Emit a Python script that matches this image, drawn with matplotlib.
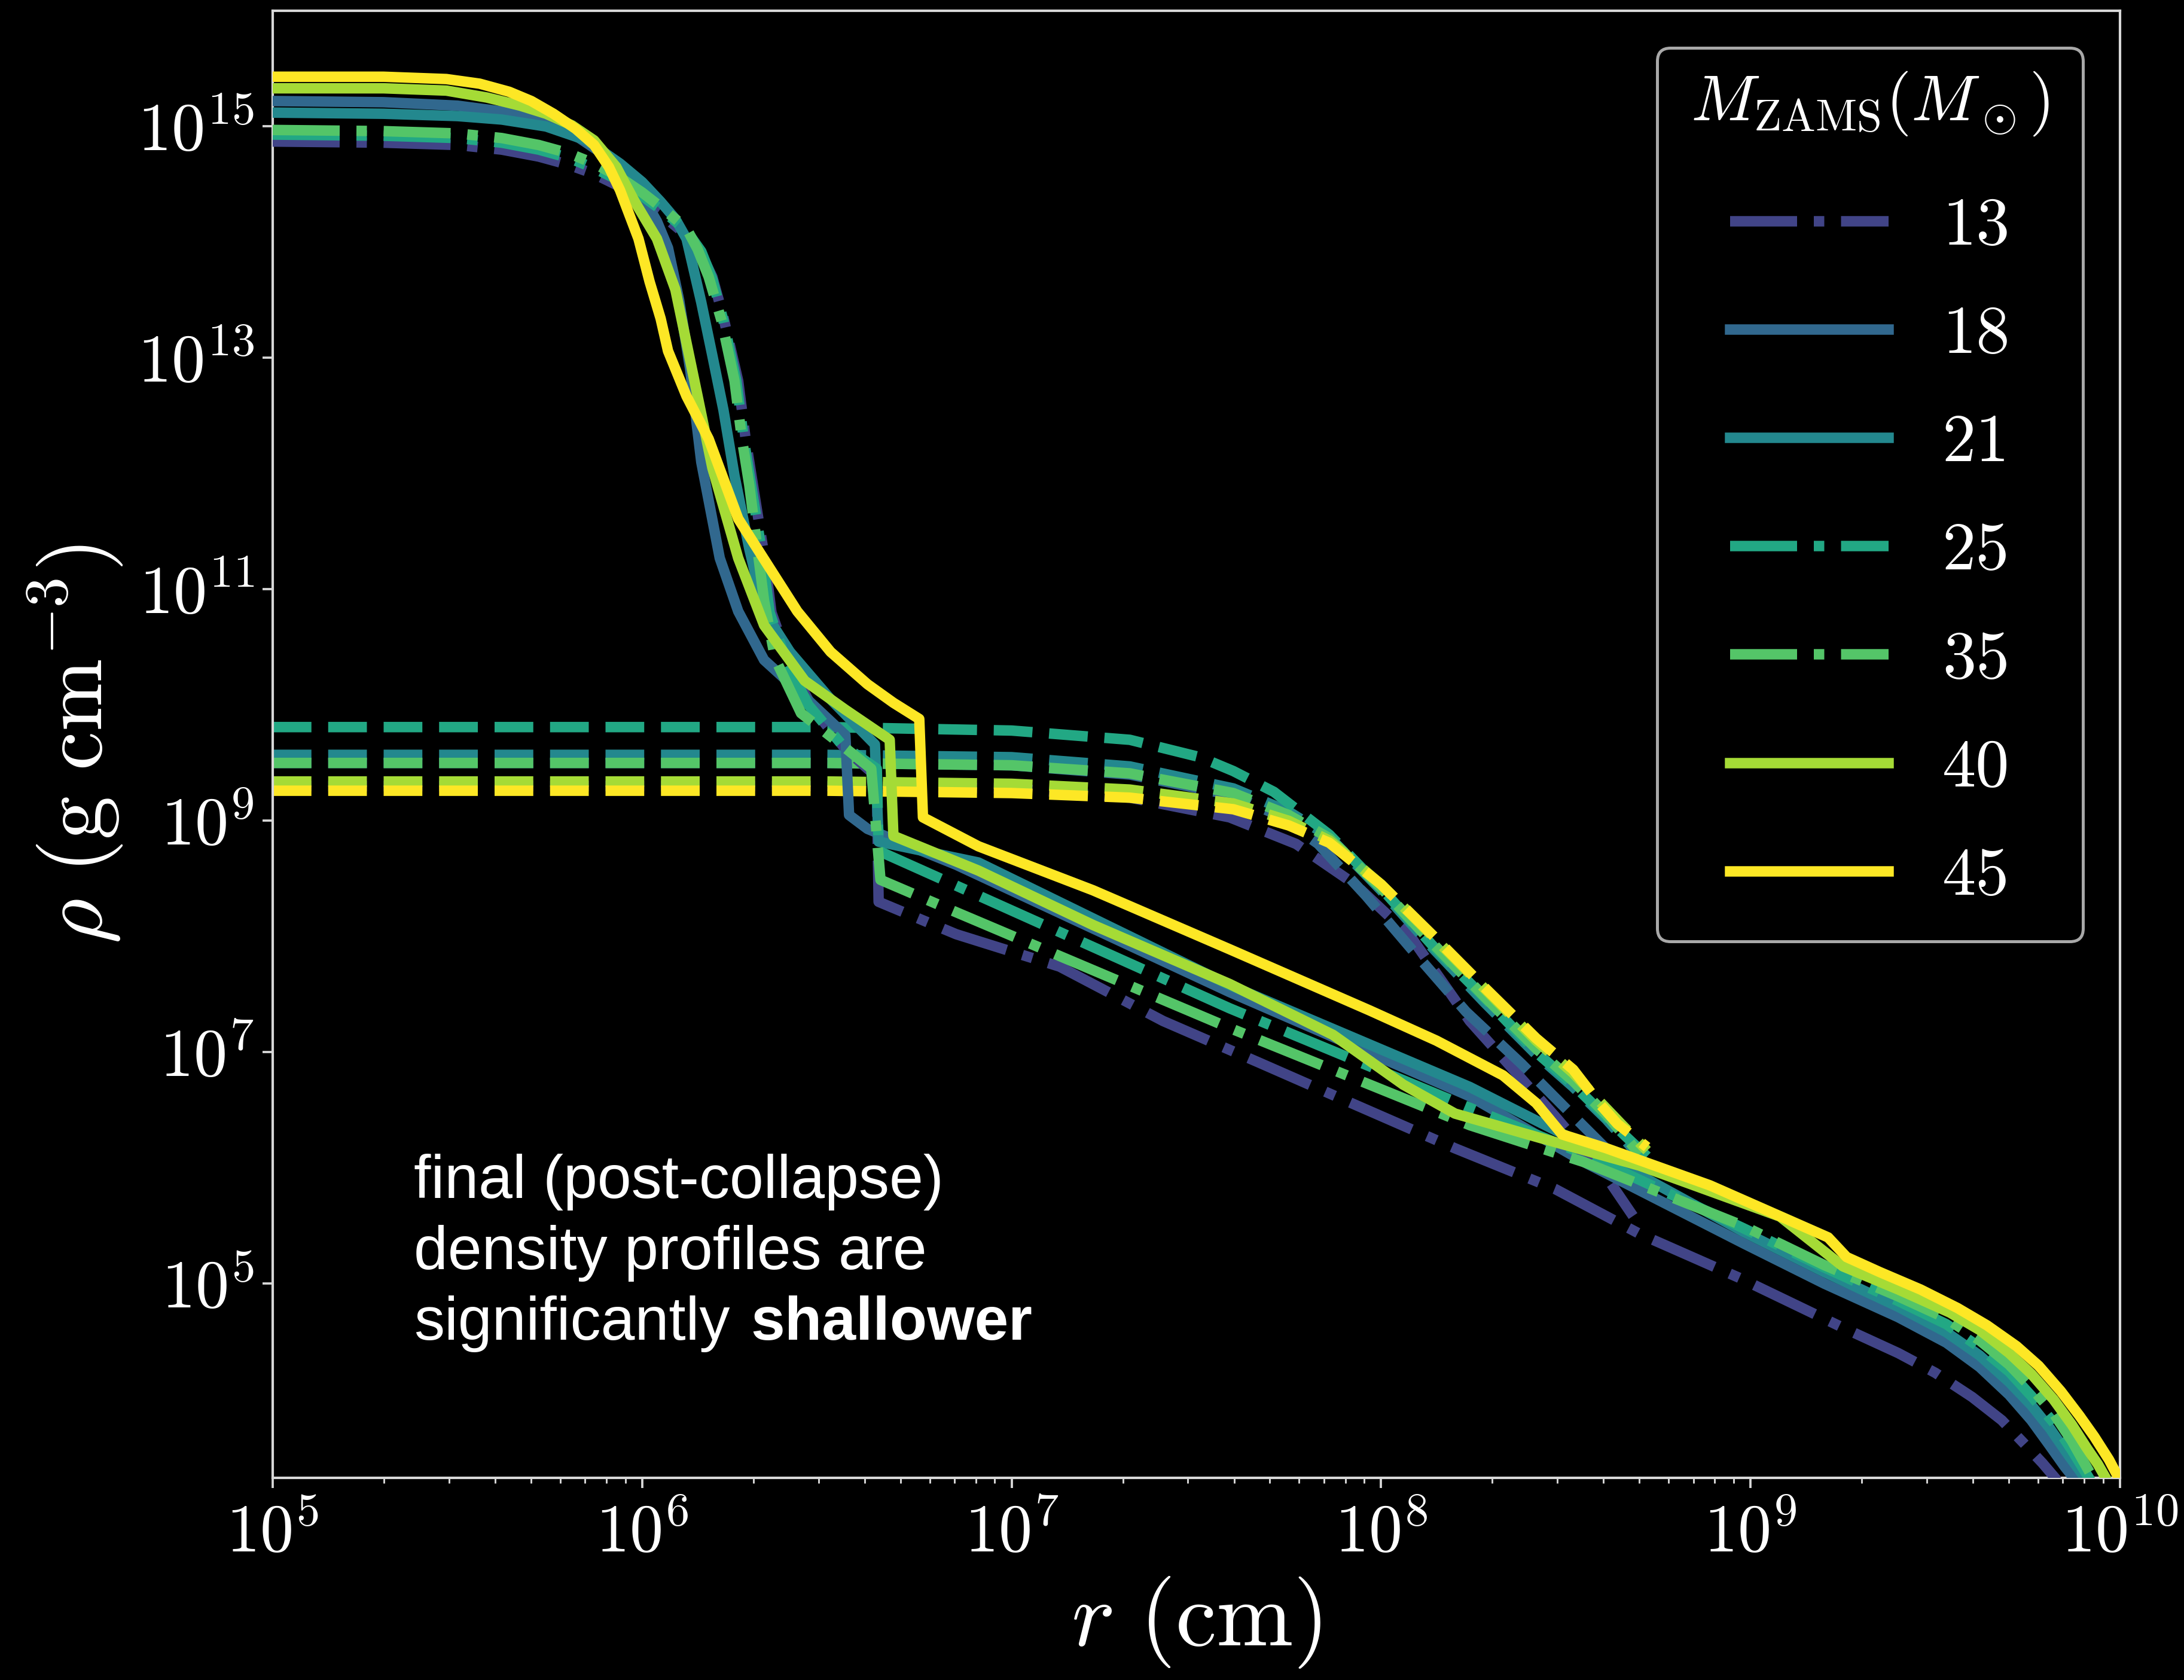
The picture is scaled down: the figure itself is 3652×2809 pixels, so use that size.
import numpy as np
import matplotlib
matplotlib.use("Agg")
import matplotlib.pyplot as plt
from matplotlib.ticker import LogLocator, NullLocator, FixedLocator, LogFormatterSciNotation

plt.rcParams.update({
    "font.family": "serif",
    "font.serif": ["cmr10", "DejaVu Serif"],
    "mathtext.fontset": "cm",
    "axes.formatter.use_mathtext": True,
    "axes.unicode_minus": False,
})

# ---------------- data (log10 r [cm], log10 rho [g cm^-3]) ----------------
masses = [13, 18, 21, 25, 35, 40, 45]
final_styles = ["-.", "-", "-", "-.", "-.", "-", "-"]

# post-collapse (final) profiles
logr_13_final = [5.00, 5.30, 5.50, 5.62, 5.72, 5.80, 5.87, 5.94, 6.00, 6.06, 6.12, 6.16, 6.19, 6.22, 6.26, 6.28, 6.30, 6.33, 6.35, 6.40, 6.46, 6.55, 6.635, 6.64, 6.85, 7.13, 7.41, 7.67, 7.92, 8.20, 8.47, 8.70, 8.97, 9.25, 9.40, 9.50, 9.60, 9.68, 9.74, 9.79, 9.83]
logrho_13_final = [14.87, 14.86, 14.84, 14.80, 14.74, 14.67, 14.59, 14.48, 14.36, 14.22, 14.06, 13.90, 13.70, 13.35, 12.80, 12.30, 11.90, 11.30, 10.80, 10.35, 9.98, 9.62, 9.38, 8.30, 8.02, 7.74, 7.27, 6.91, 6.56, 6.17, 5.82, 5.43, 5.05, 4.62, 4.40, 4.23, 4.02, 3.82, 3.62, 3.45, 3.30]

logr_18_final = [5.00, 5.30, 5.50, 5.62, 5.74, 5.83, 5.90, 5.96, 6.00, 6.04, 6.07, 6.10, 6.13, 6.16, 6.21, 6.26, 6.33, 6.44, 6.55, 6.56, 6.61, 6.85, 7.59, 8.24, 8.55, 8.98, 9.20, 9.40, 9.53, 9.62, 9.70, 9.76, 9.81, 9.85, 9.88]
logrho_18_final = [15.22, 15.21, 15.18, 15.13, 15.04, 14.90, 14.75, 14.58, 14.40, 14.18, 13.95, 13.50, 12.90, 12.10, 11.27, 10.81, 10.39, 10.07, 9.74, 9.05, 8.93, 8.62, 7.52, 6.62, 6.05, 5.35, 5.00, 4.71, 4.49, 4.28, 4.04, 3.82, 3.60, 3.42, 3.30]

logr_21_final = [5.00, 5.30, 5.50, 5.62, 5.74, 5.85, 5.94, 6.00, 6.05, 6.09, 6.12, 6.16, 6.19, 6.22, 6.25, 6.29, 6.33, 6.40, 6.51, 6.63, 6.64, 6.91, 7.59, 8.24, 8.55, 8.98, 9.20, 9.40, 9.53, 9.62, 9.70, 9.76, 9.81, 9.86, 9.91]
logrho_21_final = [15.12, 15.11, 15.09, 15.06, 15.00, 14.88, 14.68, 14.52, 14.35, 14.20, 14.03, 13.48, 13.02, 12.55, 11.98, 11.35, 10.81, 10.46, 10.05, 9.66, 8.82, 8.64, 7.58, 6.70, 6.20, 5.45, 5.10, 4.80, 4.58, 4.38, 4.15, 3.95, 3.75, 3.52, 3.30]

logr_25_final = [5.00, 5.30, 5.50, 5.62, 5.72, 5.80, 5.87, 5.94, 6.00, 6.06, 6.12, 6.16, 6.19, 6.22, 6.255, 6.275, 6.295, 6.325, 6.345, 6.39, 6.45, 6.54, 6.635, 6.64, 6.85, 7.59, 8.24, 8.55, 8.98, 9.20, 9.40, 9.53, 9.62, 9.70, 9.76, 9.82, 9.87, 9.92]
logrho_25_final = [14.93, 14.92, 14.90, 14.86, 14.80, 14.73, 14.64, 14.53, 14.40, 14.26, 14.10, 13.92, 13.68, 13.32, 12.80, 12.30, 11.90, 11.30, 10.80, 10.38, 10.00, 9.66, 9.45, 8.74, 8.44, 7.38, 6.52, 6.12, 5.48, 5.14, 4.85, 4.65, 4.45, 4.24, 4.03, 3.80, 3.56, 3.30]

logr_35_final = [5.00, 5.30, 5.50, 5.62, 5.72, 5.80, 5.87, 5.94, 6.00, 6.06, 6.12, 6.15, 6.18, 6.215, 6.25, 6.27, 6.29, 6.31, 6.33, 6.36, 6.43, 6.53, 6.62, 6.645, 6.85, 7.59, 8.24, 8.55, 8.98, 9.20, 9.40, 9.53, 9.62, 9.70, 9.76, 9.82, 9.87, 9.93]
logrho_35_final = [14.97, 14.96, 14.94, 14.90, 14.84, 14.77, 14.68, 14.56, 14.43, 14.28, 14.12, 13.94, 13.70, 13.32, 12.80, 12.30, 11.90, 11.40, 10.90, 10.40, 9.93, 9.68, 9.45, 8.49, 8.21, 7.21, 6.37, 6.05, 5.50, 5.16, 4.89, 4.70, 4.51, 4.30, 4.10, 3.88, 3.64, 3.30]

logr_40_final = [5.00, 5.30, 5.47, 5.58, 5.67, 5.74, 5.81, 5.87, 5.93, 5.98, 6.04, 6.09, 6.12, 6.15, 6.19, 6.26, 6.33, 6.44, 6.55, 6.67, 6.68, 6.91, 7.22, 7.59, 7.87, 8.06, 8.20, 8.43, 8.70, 9.08, 9.25, 9.40, 9.54, 9.62, 9.70, 9.76, 9.82, 9.87, 9.91, 9.94, 9.965]
logrho_40_final = [15.33, 15.33, 15.31, 15.25, 15.18, 15.11, 15.01, 14.88, 14.65, 14.35, 14.03, 13.59, 13.13, 12.67, 12.05, 11.27, 10.69, 10.21, 9.96, 9.70, 8.87, 8.57, 8.10, 7.59, 7.15, 6.72, 6.47, 6.26, 6.02, 5.58, 5.15, 4.95, 4.75, 4.60, 4.40, 4.22, 4.00, 3.78, 3.58, 3.44, 3.30]

logr_45_final = [5.00, 5.30, 5.47, 5.56, 5.64, 5.70, 5.76, 5.82, 5.87, 5.91, 5.94, 5.99, 6.02, 6.05, 6.07, 6.12, 6.18, 6.26, 6.35, 6.42, 6.51, 6.61, 6.68, 6.75, 6.76, 6.91, 7.22, 7.59, 7.97, 8.15, 8.33, 8.42, 8.49, 8.61, 8.89, 9.21, 9.26, 9.35, 9.46, 9.56, 9.64, 9.72, 9.78, 9.84, 9.89, 9.93, 9.97, 10.00]
logrho_45_final = [15.43, 15.43, 15.41, 15.37, 15.30, 15.22, 15.11, 14.98, 14.84, 14.65, 14.45, 14.03, 13.66, 13.34, 13.06, 12.67, 12.30, 11.61, 11.16, 10.81, 10.46, 10.18, 10.02, 9.88, 9.03, 8.78, 8.40, 7.89, 7.36, 7.10, 6.80, 6.56, 6.29, 6.17, 5.85, 5.40, 5.23, 5.10, 4.95, 4.79, 4.64, 4.46, 4.29, 4.07, 3.86, 3.68, 3.48, 3.30]

# pre-collapse (initial) profiles, dashed
logr_13_init = [5.00, 6.50, 7.00, 7.32, 7.59, 7.77, 7.93, 8.08, 8.24, 8.33, 8.47, 8.60, 8.70]
logrho_13_init = [9.30, 9.30, 9.28, 9.20, 9.03, 8.80, 8.45, 8.00, 7.27, 6.95, 6.45, 5.97, 5.50]

logr_18_init = [5.00, 6.50, 7.00, 7.32, 7.60, 7.72, 7.83, 7.96, 8.08, 8.23, 8.38, 8.52, 8.63, 8.72]
logrho_18_init = [9.50, 9.50, 9.48, 9.40, 9.22, 9.05, 8.80, 8.35, 7.90, 7.35, 6.90, 6.45, 6.10, 5.85]

logr_21_init = [5.00, 6.50, 7.00, 7.32, 7.60, 7.75, 7.86, 8.00, 8.14, 8.28, 8.42, 8.52, 8.61, 8.70]
logrho_21_init = [9.57, 9.57, 9.55, 9.47, 9.28, 9.08, 8.86, 8.40, 7.90, 7.43, 6.98, 6.70, 6.42, 6.10]

logr_25_init = [5.00, 6.50, 7.00, 7.32, 7.51, 7.60, 7.71, 7.86, 8.00, 8.14, 8.28, 8.42, 8.52, 8.59, 8.66, 8.72]
logrho_25_init = [9.81, 9.81, 9.78, 9.70, 9.55, 9.43, 9.25, 8.88, 8.42, 7.92, 7.47, 7.00, 6.72, 6.50, 6.28, 6.10]

logr_35_init = [5.00, 6.50, 7.00, 7.32, 7.60, 7.75, 7.86, 8.00, 8.14, 8.28, 8.42, 8.52, 8.61, 8.70]
logrho_35_init = [9.50, 9.50, 9.48, 9.41, 9.24, 9.05, 8.85, 8.42, 7.94, 7.48, 7.03, 6.75, 6.46, 6.12]

logr_40_init = [5.00, 6.50, 7.00, 7.32, 7.60, 7.75, 7.86, 8.00, 8.14, 8.28, 8.42, 8.52, 8.59, 8.65, 8.72]
logrho_40_init = [9.34, 9.34, 9.32, 9.27, 9.15, 9.00, 8.83, 8.45, 8.00, 7.55, 7.10, 6.82, 6.58, 6.38, 6.15]

logr_45_init = [5.00, 6.50, 7.00, 7.32, 7.60, 7.75, 7.86, 8.00, 8.14, 8.28, 8.42, 8.52, 8.59, 8.64, 8.72]
logrho_45_init = [9.26, 9.26, 9.24, 9.20, 9.10, 8.96, 8.81, 8.45, 8.01, 7.56, 7.12, 6.85, 6.56, 6.38, 6.18]

final_r = [logr_13_final, logr_18_final, logr_21_final, logr_25_final, logr_35_final, logr_40_final, logr_45_final]
final_rho = [logrho_13_final, logrho_18_final, logrho_21_final, logrho_25_final, logrho_35_final, logrho_40_final, logrho_45_final]
init_r = [logr_13_init, logr_18_init, logr_21_init, logr_25_init, logr_35_init, logr_40_init, logr_45_init]
init_rho = [logrho_13_init, logrho_18_init, logrho_21_init, logrho_25_init, logrho_35_init, logrho_40_init, logrho_45_init]

x_ticks = [1e5, 1e6, 1e7, 1e8, 1e9, 1e10]
y_ticks = [1e5, 1e7, 1e9, 1e11, 1e13, 1e15]

# ---------------- figure ----------------
W, H, DPI = 3652, 2809, 300
fig = plt.figure(figsize=(W / DPI, H / DPI), dpi=DPI, facecolor="black")
ax = fig.add_axes([456 / W, 1 - 2471 / H, (3545 - 456) / W, (2471 - 18) / H])
ax.set_facecolor("black")

colors = plt.cm.viridis(np.linspace(0.2, 1.0, len(masses)))
lw = 4.2

for i, m in enumerate(masses):
    ax.plot(10 ** np.array(init_r[i]), 10 ** np.array(init_rho[i]), ls="--",
            color=colors[i], lw=lw, zorder=2)
for i, m in enumerate(masses):
    ax.plot(10 ** np.array(final_r[i]), 10 ** np.array(final_rho[i]), ls=final_styles[i],
            color=colors[i], lw=lw, zorder=3, label=str(m))

ax.set_xscale("log")
ax.set_yscale("log")
ax.set_xlim(1e5, 1e10)
ax.set_ylim(2.1e3, 1e16)

ax.xaxis.set_major_locator(FixedLocator(x_ticks))
ax.xaxis.set_minor_locator(LogLocator(base=10, subs=np.arange(2, 10)))
ax.yaxis.set_major_locator(FixedLocator(y_ticks))
ax.yaxis.set_minor_locator(NullLocator())
ax.xaxis.set_major_formatter(LogFormatterSciNotation())
ax.yaxis.set_major_formatter(LogFormatterSciNotation())

spine_col = "#d8d8d8"
for s in ax.spines.values():
    s.set_color(spine_col)
    s.set_linewidth(1.0)
ax.tick_params(which="both", colors=spine_col, labelcolor="white", labelsize=27)
ax.tick_params(axis="x", which="major", pad=6)
ax.tick_params(which="major", length=4, width=0.9)
ax.tick_params(which="minor", length=2.2, width=0.7)

ax.set_xlabel(r"$r\ (\rm cm)$", color="white", fontsize=37, labelpad=4)
ax.set_ylabel(r"$\rho\ (\rm g\ cm^{-3})$", color="white", fontsize=35, labelpad=5)

leg = ax.legend(title=r"$M_{\rm ZAMS}(M_\odot)$", loc="upper right", fontsize=27,
                title_fontsize=26, handlelength=2.35, handletextpad=0.8,
                labelspacing=0.715, borderpad=0.5, borderaxespad=0.55,
                facecolor="black", edgecolor="#a8a8a8", framealpha=1.0,
                labelcolor="white")
leg.get_title().set_color("white")
leg.get_title().set_y(20)
leg.get_frame().set_linewidth(1.2)

# annotation
txt_kw = dict(color="white", fontsize=24.5, family=["Liberation Sans", "DejaVu Sans"],
              va="baseline", ha="left")
fig.text(692 / W, 1 - 2003 / H, "final (post-collapse)", **txt_kw)
fig.text(692 / W, 1 - 2122 / H, "density profiles are", **txt_kw)
fig.text(692 / W, 1 - 2240 / H, "significantly", **txt_kw)
fig.text(1255 / W, 1 - 2240 / H, "shallower", fontweight="bold", **txt_kw)

fig.savefig("out.png", dpi=DPI, facecolor="black")
